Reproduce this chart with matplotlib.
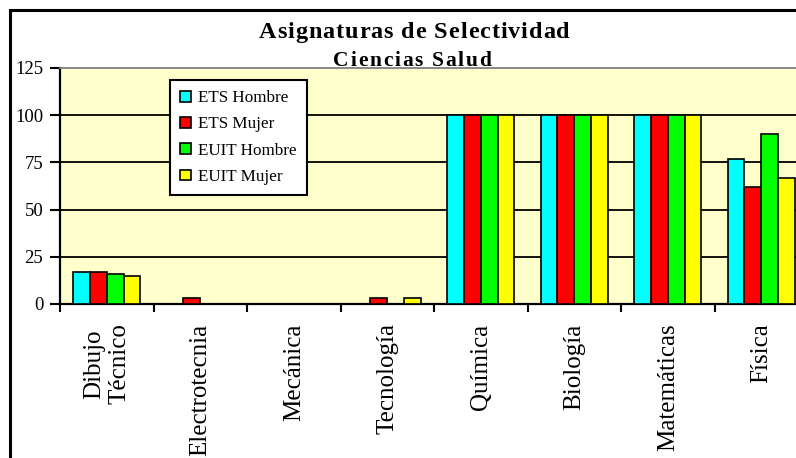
import matplotlib
matplotlib.use('Agg')
import matplotlib.pyplot as plt
from matplotlib.patches import Rectangle
from matplotlib.textpath import TextPath
from matplotlib.font_manager import FontProperties
import numpy as np

plt.rcParams['font.family'] = ['Liberation Serif', 'DejaVu Serif']

categories = ['Dibujo\nTécnico', 'Electrotecnia', 'Mecánica', 'Tecnología',
              'Química', 'Biología', 'Matemáticas', 'Física']
ets_hombre = [17, 0, 0, 0, 100, 100, 100, 77]
ets_mujer = [17, 3, 0, 3, 100, 100, 100, 62]
euit_hombre = [16, 0, 0, 0, 100, 100, 100, 90]
euit_mujer = [15, 0, 0, 3, 100, 100, 100, 67]
series_names = ['ETS Hombre', 'ETS Mujer', 'EUIT Hombre', 'EUIT Mujer']
colors = ['#00FFFF', '#FF0000', '#00FF00', '#FFFF00']
y_ticks = [0, 25, 50, 75, 100, 125]

W, H = 796, 458
DPI = 100
fig = plt.figure(figsize=(W / DPI, H / DPI), dpi=DPI)


def spaced_text(s, xc, yc, size, spacing):
    # bold title with extra tracking between letters, centred at (xc, yc) px
    fp = FontProperties(family='Liberation Serif', weight='bold', size=size)
    scale = DPI / 72
    widths = []
    for ch in s:
        if ch == ' ':
            widths.append(TextPath((0, 0), 'a a', prop=fp).get_extents().width * scale
                          - TextPath((0, 0), 'aa', prop=fp).get_extents().width * scale)
        else:
            widths.append(TextPath((0, 0), 'x' + ch + 'x', prop=fp).get_extents().width * scale
                          - TextPath((0, 0), 'xx', prop=fp).get_extents().width * scale)
    total = sum(widths) + spacing * (len(s) - 1)
    xpos = xc - total / 2
    for ch, w in zip(s, widths):
        if ch != ' ':
            fig.text(xpos / W, 1 - yc / H, ch, ha='left', va='baseline',
                     fontproperties=fp)
        xpos += w + spacing


# outer chart frame (runs past the right and bottom edges)
fig.patches.append(Rectangle((10 / W, -0.2), 1.2, 1 - 10 / H + 0.2,
                             transform=fig.transFigure, fill=False,
                             edgecolor='black', linewidth=2.2))

# plot area is wider than the figure, so the last group gets cut off
ax = fig.add_axes([60 / W, 1 - 304 / H, 748 / W, 236 / H])
ax.set_facecolor('#FFFFCC')

x = np.arange(len(categories))
bw = 0.18
all_series = [ets_hombre, ets_mujer, euit_hombre, euit_mujer]
for i, (vals, name, c) in enumerate(zip(all_series, series_names, colors)):
    ax.bar(x + (i - 1.5) * bw, vals, bw, color=c, edgecolor='black',
           linewidth=1.2, label=name, zorder=3)

ax.set_xlim(-0.5, len(categories) - 0.5)
ax.set_ylim(0, 125)
ax.set_yticks(y_ticks)
ax.set_yticklabels([str(v) for v in y_ticks], fontsize=13.5)
for v in y_ticks[1:-1]:
    ax.axhline(v, color='black', linewidth=1.3, zorder=1)

ax.set_xticks(np.arange(len(categories) + 1) - 0.5)
ax.set_xticklabels([])
ax.set_xticks(x, minor=True)
ax.set_xticklabels(categories, minor=True, rotation=90, fontsize=18,
                   va='top', ha='center', multialignment='center')
ax.tick_params(axis='x', which='minor', length=0, pad=14)
ax.tick_params(axis='x', which='major', length=6, width=1.5, direction='out')
ax.tick_params(axis='y', length=7, width=1.5, pad=5)

ax.spines['left'].set_linewidth(1.6)
ax.spines['bottom'].set_linewidth(1.6)
ax.spines['top'].set_color('#808080')
ax.spines['top'].set_linewidth(1.3)
ax.spines['right'].set_visible(False)

leg = ax.legend(loc='upper left', bbox_to_anchor=(110 / 748, 1 - 12 / 236),
                fontsize=12.3, frameon=True, fancybox=False, edgecolor='black',
                handlelength=0.6, handleheight=0.6, handletextpad=0.45,
                labelspacing=0.6, borderpad=0.6, borderaxespad=0)
leg.get_frame().set_linewidth(1.5)
leg.get_frame().set_alpha(1)

spaced_text('Asignaturas de Selectividad', 414, 38, 17.5, 0.9)
spaced_text('Ciencias Salud', 412, 66, 15.5, 1.7)

fig.savefig('out.png', dpi=DPI)
